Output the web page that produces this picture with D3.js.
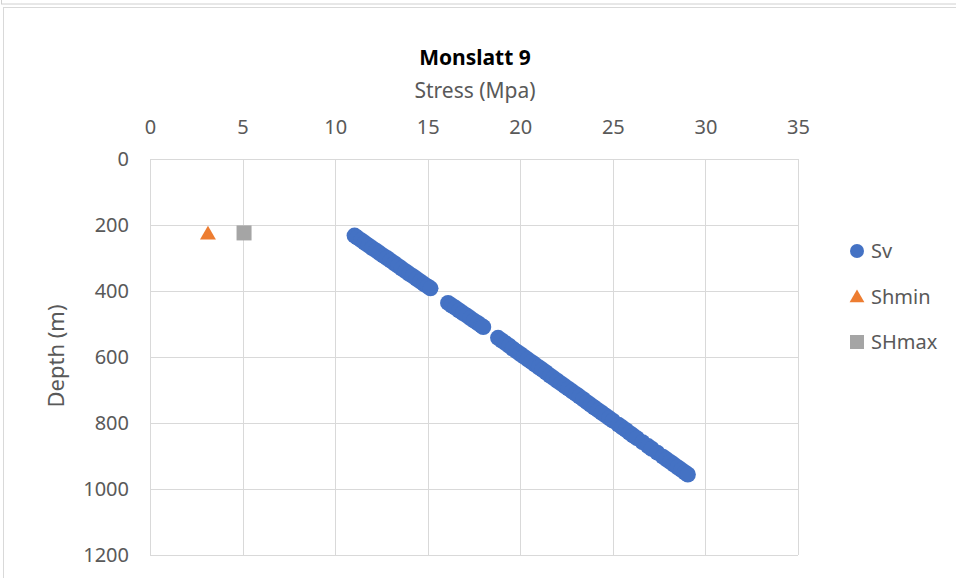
<!DOCTYPE html>
<html>
<head>
<meta charset="utf-8">
<script src="https://cdn.jsdelivr.net/npm/d3@7"></script>
<style>
  body { margin: 0; background: #fff; }
  text { font-family: "Noto Sans", sans-serif; }
</style>
</head>
<body>
<script>
// stress (MPa) / depth (m)
var svStress = [11.05, 11.2, 11.4, 11.6, 11.8, 12.0, 12.2, 12.4, 12.6, 12.8, 13.0, 13.2, 13.4, 13.6, 13.8, 14.0, 14.2, 14.4, 14.6, 14.8, 15.0, 15.15,
  16.1, 16.3, 16.5, 16.7, 16.9, 17.1, 17.3, 17.5, 17.7, 17.9, 18.0,
  18.8, 19.0, 19.2, 19.4, 19.6, 19.8, 20.0, 20.2, 20.4, 20.6, 20.8, 21.0, 21.2, 21.4, 21.6, 21.8, 22.0, 22.2, 22.4, 22.6, 22.8,
  23.0, 23.2, 23.4, 23.6, 23.8, 24.0, 24.2, 24.4, 24.6, 24.8, 25.0, 25.3, 25.5, 25.7, 25.9, 26.1, 26.3, 26.6, 26.9, 27.1, 27.4,
  27.7, 27.9, 28.1, 28.3, 28.5, 28.7, 28.9, 29.05]
var svDepth = [232, 238, 246, 254, 262, 270, 277, 285, 293, 300, 308, 316, 324, 332, 340, 348, 355, 363, 371, 379, 386, 392,
  436, 444, 451, 459, 467, 474, 482, 490, 497, 505, 509,
  542, 550, 558, 566, 575, 583, 591, 599, 607, 615, 623, 631, 639, 647, 656, 664, 672, 680, 688, 696, 704,
  712, 720, 728, 737, 745, 753, 761, 769, 777, 785, 793, 805, 813, 821, 830, 838, 846, 858, 870, 878, 890,
  902, 910, 918, 926, 934, 942, 950, 956]
var shminStress = [3.13], shminDepth = [227]
var shmaxStress = [5.08], shmaxDepth = [224]

var xTicks = [0, 5, 10, 15, 20, 25, 30, 35]
var yTicks = [0, 200, 400, 600, 800, 1000, 1200]
var seriesNames = ["Sv", "Shmin", "SHmax"]
var seriesColors = ["#4472c4", "#ed7d31", "#a5a5a5"]

var W = 956, H = 578
var svg = d3.select("body").append("svg").attr("width", W).attr("height", H)

// chart frame (screenshot edges)
svg.append("rect").attr("x", 1.5).attr("y", -10).attr("width", 1000).attr("height", 14)
  .attr("fill", "none").attr("stroke", "#d0d0d0")
svg.append("rect").attr("x", 3.5).attr("y", 7.5).attr("width", 1000).attr("height", 700)
  .attr("fill", "none").attr("stroke", "#d9d9d9")

var x = d3.scaleLinear().domain([0, 35]).range([150, 798])
var y = d3.scaleLinear().domain([0, 1200]).range([159, 555])

// grid
var grid = svg.append("g").attr("stroke", "#d9d9d9").attr("stroke-width", 1)
grid.selectAll(".vg").data(xTicks).enter().append("line")
  .attr("x1", function(d) { return Math.round(x(d)) + 0.5 }).attr("x2", function(d) { return Math.round(x(d)) + 0.5 })
  .attr("y1", y(0)).attr("y2", y(1200))
grid.selectAll(".hg").data(yTicks).enter().append("line")
  .attr("y1", function(d) { return Math.round(y(d)) + 0.5 }).attr("y2", function(d) { return Math.round(y(d)) + 0.5 })
  .attr("x1", x(0)).attr("x2", x(35))

// axes, labels only
var fmt = d3.format("d")
svg.append("g").attr("transform", "translate(0," + 134 + ")")
  .call(d3.axisTop(x).tickValues(xTicks).tickFormat(fmt).tickSize(0).tickPadding(0))
svg.append("g").attr("transform", "translate(" + 129 + ",0)")
  .call(d3.axisLeft(y).tickValues(yTicks).tickFormat(fmt).tickSize(0).tickPadding(0))
svg.selectAll(".domain").remove()
svg.selectAll(".tick text").attr("fill", "#595959").style("font-size", "20px")
  .style("font-family", "'Noto Sans', sans-serif")

// titles
svg.append("text").attr("x", 475).attr("y", 65).attr("text-anchor", "middle")
  .style("font-size", "21px").style("font-weight", "bold").attr("fill", "#000").text("Monslatt 9")
svg.append("text").attr("x", 475).attr("y", 98).attr("text-anchor", "middle")
  .style("font-size", "21px").attr("fill", "#595959").text("Stress (Mpa)")
svg.append("text").attr("transform", "translate(64,356) rotate(-90)").attr("text-anchor", "middle")
  .style("font-size", "22px").attr("fill", "#595959").text("Depth (m)")

// marks
var sv = svStress.map(function(s, i) { return [s, svDepth[i]] })
svg.append("g").selectAll("circle").data(sv).enter().append("circle")
  .attr("cx", function(d) { return x(d[0]) }).attr("cy", function(d) { return y(d[1]) })
  .attr("r", 8).attr("fill", seriesColors[0])

var tri = d3.symbol().type(d3.symbolTriangle).size(110)
svg.append("g").selectAll("path").data(shminStress.map(function(s, i) { return [s, shminDepth[i]] })).enter()
  .append("path").attr("d", tri)
  .attr("transform", function(d) { return "translate(" + x(d[0]) + "," + (y(d[1]) + 1) + ")" })
  .attr("fill", seriesColors[1])

svg.append("g").selectAll("rect").data(shmaxStress.map(function(s, i) { return [s, shmaxDepth[i]] })).enter()
  .append("rect")
  .attr("x", function(d) { return x(d[0]) - 7.5 }).attr("y", function(d) { return y(d[1]) - 7.5 })
  .attr("width", 15).attr("height", 15).attr("fill", seriesColors[2])

// legend
var leg = svg.append("g")
var legY = [251, 297, 342]
seriesNames.forEach(function(name, i) {
  var g = leg.append("g").attr("transform", "translate(857," + legY[i] + ")")
  if (i === 0) g.append("circle").attr("r", 7).attr("fill", seriesColors[i])
  else if (i === 1) g.append("path").attr("d", d3.symbol().type(d3.symbolTriangle).size(95)).attr("transform", "translate(0,1)").attr("fill", seriesColors[i])
  else g.append("rect").attr("x", -7).attr("y", -7).attr("width", 14).attr("height", 14).attr("fill", seriesColors[i])
  g.append("text").attr("x", 14).attr("y", 7).style("font-size", "20px").attr("fill", "#595959").text(name)
})
</script>
</body>
</html>
